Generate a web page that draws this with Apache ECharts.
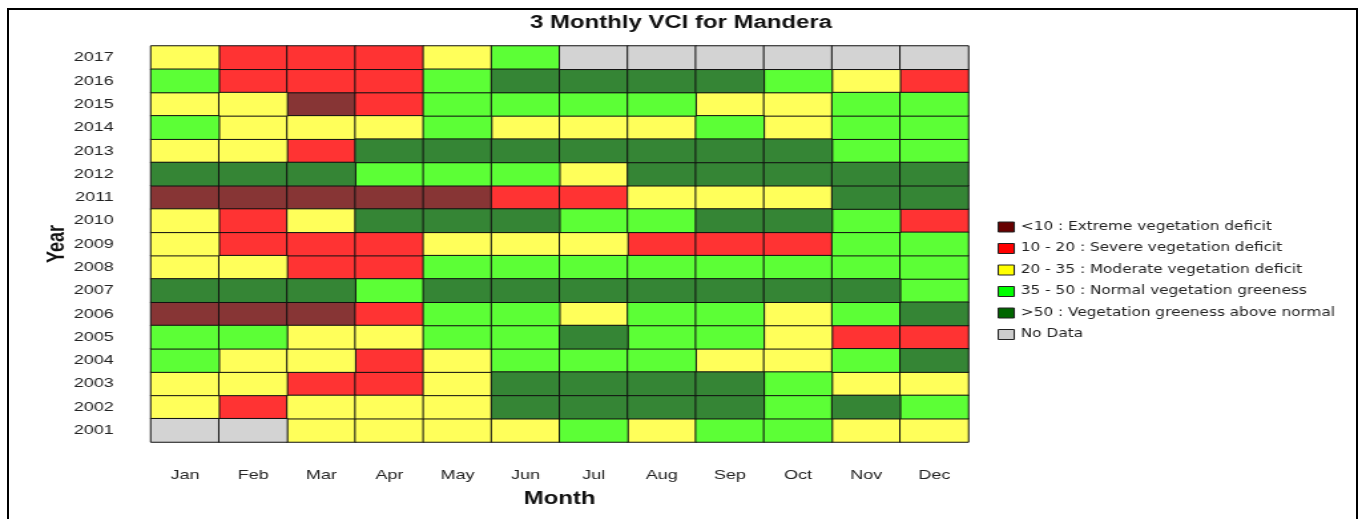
<!DOCTYPE html>
<html>
<head>
<meta charset="utf-8">
<title>3 Monthly VCI for Mandera</title>
<script src="https://cdn.jsdelivr.net/npm/echarts@6/dist/echarts.min.js"></script>
<style>
  html, body { margin: 0; padding: 0; background: #fff; overflow: hidden; }
  /* the reference is a 1024 wide chart stretched to 1362, so draw at 1024 and stretch */
  #chart { position: absolute; left: 0; top: 0; width: 1024px; height: 519px;
           transform: scaleX(1.330078); transform-origin: 0 0; }
  #frame { position: absolute; left: 7px; top: 8px; width: 1347px; height: 530px;
           border: 2px solid #000; pointer-events: none; }
</style>
</head>
<body>
<div id="chart"></div>
<div id="frame"></div>
<script>
const months = ['Jan', 'Feb', 'Mar', 'Apr', 'May', 'Jun', 'Jul', 'Aug', 'Sep', 'Oct', 'Nov', 'Dec'];
const years = ['2001', '2002', '2003', '2004', '2005', '2006', '2007', '2008', '2009',
  '2010', '2011', '2012', '2013', '2014', '2015', '2016', '2017'];

// VCI classes
const classNames = [
  '<10 : Extreme vegetation deficit',
  '10 - 20 : Severe vegetation deficit',
  '20 - 35 : Moderate vegetation deficit',
  '35 - 50 : Normal vegetation greeness',
  '>50 : Vegetation greeness above normal',
  'No Data',
];
const cellColors = ['#873535', '#ff3333', '#ffff5a', '#5cff36', '#358535', '#d3d3d3'];
const legendColors = ['#660000', '#ff0000', '#ffff00', '#00ff00', '#006600', '#cccccc'];

// class index per month, one row per year (2001 first)
const vciClass = [
  [5, 5, 2, 2, 2, 2, 3, 2, 3, 3, 2, 2], // 2001
  [2, 1, 2, 2, 2, 4, 4, 4, 4, 3, 4, 3], // 2002
  [2, 2, 1, 1, 2, 4, 4, 4, 4, 3, 2, 2], // 2003
  [3, 2, 2, 1, 2, 3, 3, 3, 2, 2, 3, 4], // 2004
  [3, 3, 2, 2, 3, 3, 4, 3, 3, 2, 1, 1], // 2005
  [0, 0, 0, 1, 3, 3, 2, 3, 3, 2, 3, 4], // 2006
  [4, 4, 4, 3, 4, 4, 4, 4, 4, 4, 4, 3], // 2007
  [2, 2, 1, 1, 3, 3, 3, 3, 3, 3, 3, 3], // 2008
  [2, 1, 1, 1, 2, 2, 2, 1, 1, 1, 3, 3], // 2009
  [2, 1, 2, 4, 4, 4, 3, 3, 4, 4, 3, 1], // 2010
  [0, 0, 0, 0, 0, 1, 1, 2, 2, 2, 4, 4], // 2011
  [4, 4, 4, 3, 3, 3, 2, 4, 4, 4, 4, 4], // 2012
  [2, 2, 1, 4, 4, 4, 4, 4, 4, 4, 3, 3], // 2013
  [3, 2, 2, 2, 3, 2, 2, 2, 3, 2, 3, 3], // 2014
  [2, 2, 0, 1, 3, 3, 3, 3, 2, 2, 3, 3], // 2015
  [3, 1, 1, 1, 3, 4, 4, 4, 4, 3, 2, 1], // 2016
  [2, 1, 1, 1, 2, 3, 5, 5, 5, 5, 5, 5], // 2017
];

const chart = echarts.init(document.getElementById('chart'), null, { renderer: 'canvas' });

// one heatmap series per class so each gets a legend entry
const series = classNames.map((name, c) => {
  const data = [];
  vciClass.forEach((row, y) => {
    row.forEach((v, m) => {
      if (v === c) data.push([m, y, c]);
    });
  });
  return {
    name,
    type: 'heatmap',
    data,
    itemStyle: { color: cellColors[c], borderColor: '#111', borderWidth: 1 },
    emphasis: { disabled: true },
  };
});

const font = 'Liberation Sans, Arial, sans-serif';

const option = {
  animation: false,
  title: {
    text: '3 Monthly VCI for Mandera',
    left: 'center',
    top: 9,
    textStyle: { fontFamily: font, fontSize: 18, fontWeight: 'bold', color: '#111' },
  },
  legend: {
    orient: 'vertical',
    left: 745,
    top: 216,
    itemWidth: 12,
    itemHeight: 10,
    itemGap: 9.5,
    selectedMode: false,
    itemStyle: { borderColor: '#222', borderWidth: 1 },
    textStyle: { fontFamily: 'DejaVu Sans, sans-serif', fontSize: 11.5, color: '#222' },
    data: classNames.map((name, c) => ({ name, icon: 'rect', itemStyle: { color: legendColors[c] } })),
  },
  grid: { left: 113.5, right: 296, top: 46, bottom: 77 },
  xAxis: {
    type: 'category',
    data: months,
    name: 'Month',
    nameLocation: 'middle',
    nameGap: 48,
    nameTextStyle: { fontFamily: font, fontSize: 18, fontWeight: 'bold', color: '#111' },
    axisLine: { show: false },
    axisTick: { show: false },
    splitArea: { show: false },
    axisLabel: { margin: 26, fontFamily: font, fontSize: 13.5, color: '#222' },
  },
  yAxis: {
    type: 'category',
    data: years,
    name: 'Year',
    nameLocation: 'middle',
    nameMoveOverlap: false,
    nameGap: 61,
    nameRotate: 90,
    nameTextStyle: { fontFamily: font, fontSize: 18, fontWeight: 'bold', color: '#111' },
    axisLine: { show: false },
    axisTick: { show: false },
    splitArea: { show: false },
    axisLabel: { margin: 28, fontFamily: font, fontSize: 13.5, color: '#222' },
  },
  series,
};

chart.setOption(option);
</script>
</body>
</html>
